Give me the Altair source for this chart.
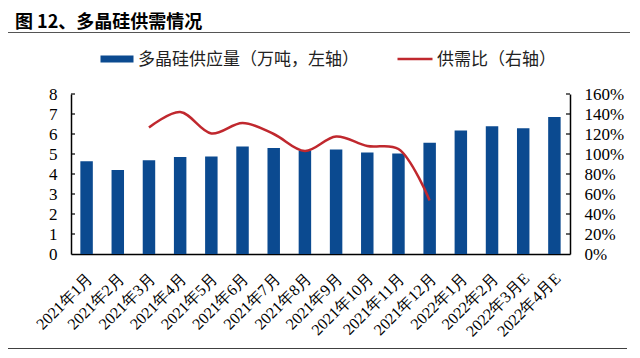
import altair as alt
import pandas as pd

months = ["2021年1月", "2021年2月", "2021年3月", "2021年4月", "2021年5月", "2021年6月",
          "2021年7月", "2021年8月", "2021年9月", "2021年10月", "2021年11月", "2021年12月",
          "2022年1月", "2022年2月", "2022年3月E", "2022年4月E"]
supply = [4.64, 4.20, 4.69, 4.85, 4.87, 5.38, 5.30, 5.17, 5.23, 5.07, 5.03, 5.56,
          6.18, 6.39, 6.29, 6.85]
ratio_months = ["2021年3月", "2021年4月", "2021年5月", "2021年6月", "2021年7月", "2021年8月",
                "2021年9月", "2021年10月", "2021年11月", "2021年12月"]
ratio = [1.265, 1.42, 1.205, 1.31, 1.20, 1.03, 1.175, 1.08, 1.05, 0.536]
left_ticks = [1, 2, 3, 4, 5, 6, 7, 8]
right_ticks = [0.2, 0.4, 0.6, 0.8, 1.0, 1.2, 1.4, 1.6]

title_text = "图 12、多晶硅供需情况"
legend_bar = "多晶硅供应量（万吨，左轴）"
legend_line = "供需比（右轴）"

BLUE = "#0B4A90"
RED = "#C0282E"
W, H = 499, 160

bar_df = pd.DataFrame({"month": months, "supply": supply})
line_df = pd.DataFrame({"month": ratio_months, "ratio": ratio})
lt_df = pd.DataFrame({"v": left_ticks})
rt_df = pd.DataFrame({"v": right_ticks})
one = pd.DataFrame({"a": [0]})

lscale = alt.Scale(domain=[0, 8])
rscale = alt.Scale(domain=[0, 1.6])
xenc = alt.X("month:N", sort=months, title=None,
             scale=alt.Scale(paddingInner=0.6, paddingOuter=0.3),
             axis=alt.Axis(labelAngle=-45, labelFont="Liberation Serif", labelFontSize=16,
                           labelColor="black", ticks=False, tickSize=0, labelPadding=16,
                           labelOffset=-2, labelOverlap=False,
                           domainColor="black", domainWidth=1.5, grid=False))

bars = alt.Chart(bar_df).mark_bar(color=BLUE).encode(
    x=xenc,
    y=alt.Y("supply:Q", scale=lscale, title=None,
            axis=alt.Axis(values=[0, 1, 2, 3, 4, 5, 6, 7, 8], orient="left",
                          labelFont="Liberation Serif", labelFontSize=17, labelColor="black",
                          ticks=False, tickSize=0, labelPadding=14, domainColor="black",
                          domainWidth=1.5, grid=False)),
)

line = alt.Chart(line_df).mark_line(color=RED, strokeWidth=2.5, interpolate="catmull-rom").encode(
    x=alt.X("month:N", sort=months),
    y=alt.Y("ratio:Q", scale=rscale, title=None,
            axis=alt.Axis(values=[0, 0.2, 0.4, 0.6, 0.8, 1.0, 1.2, 1.4, 1.6], format=".0%",
                          orient="right", labelFont="Liberation Serif", labelFontSize=17,
                          labelColor="black", ticks=False, tickSize=0, labelPadding=14,
                          domainColor="black", domainWidth=1.5, grid=False)),
)

lticks = alt.Chart(lt_df).mark_rule(color="black", strokeWidth=1.2).encode(
    y=alt.Y("v:Q", scale=lscale, axis=None), x=alt.value(0), x2=alt.value(4))
rticks = alt.Chart(rt_df).mark_rule(color="black", strokeWidth=1.2).encode(
    y=alt.Y("v:Q", scale=rscale, axis=None), x=alt.value(W - 4), x2=alt.value(W))

title = alt.Chart(one).mark_text(text=title_text, align="left", baseline="middle",
                                 font="Noto Sans CJK SC", fontWeight="bold", fontSize=18,
                                 color="black").encode(x=alt.value(-56), y=alt.value(-71))
top_rule = alt.Chart(one).mark_rule(color="#555555", strokeWidth=1.2).encode(
    x=alt.value(-68), x2=alt.value(W + 62), y=alt.value(-61.5))
bottom_rule = alt.Chart(one).mark_rule(color="black", strokeWidth=1.5).encode(
    x=alt.value(-68), x2=alt.value(W + 57), y=alt.value(H + 95))

leg_rect = alt.Chart(one).mark_rect(color=BLUE).encode(
    x=alt.value(29.5), x2=alt.value(62.5), y=alt.value(-38.5), y2=alt.value(-31.5))
leg_text1 = alt.Chart(one).mark_text(text=legend_bar, align="left", baseline="middle",
                                     font="Noto Sans CJK SC", fontSize=17, color="#222222").encode(
    x=alt.value(67), y=alt.value(-34))
leg_line = alt.Chart(one).mark_rule(color=RED, strokeWidth=2.5).encode(
    x=alt.value(326.5), x2=alt.value(361.5), y=alt.value(-35))
leg_text2 = alt.Chart(one).mark_text(text=legend_line, align="left", baseline="middle",
                                     font="Noto Sans CJK SC", fontSize=17, color="#222222").encode(
    x=alt.value(366), y=alt.value(-34))

chart = alt.layer(
    bars, line, lticks, rticks, title, top_rule, bottom_rule,
    leg_rect, leg_text1, leg_line, leg_text2
).resolve_scale(y="independent").properties(
    width=W, height=H, autosize="none",
    padding={"left": 63, "top": 86, "right": 60, "bottom": 95},
    background="white",
).configure_view(stroke=None)

chart.save("out.html", embed_options={"renderer": "svg", "actions": False})
